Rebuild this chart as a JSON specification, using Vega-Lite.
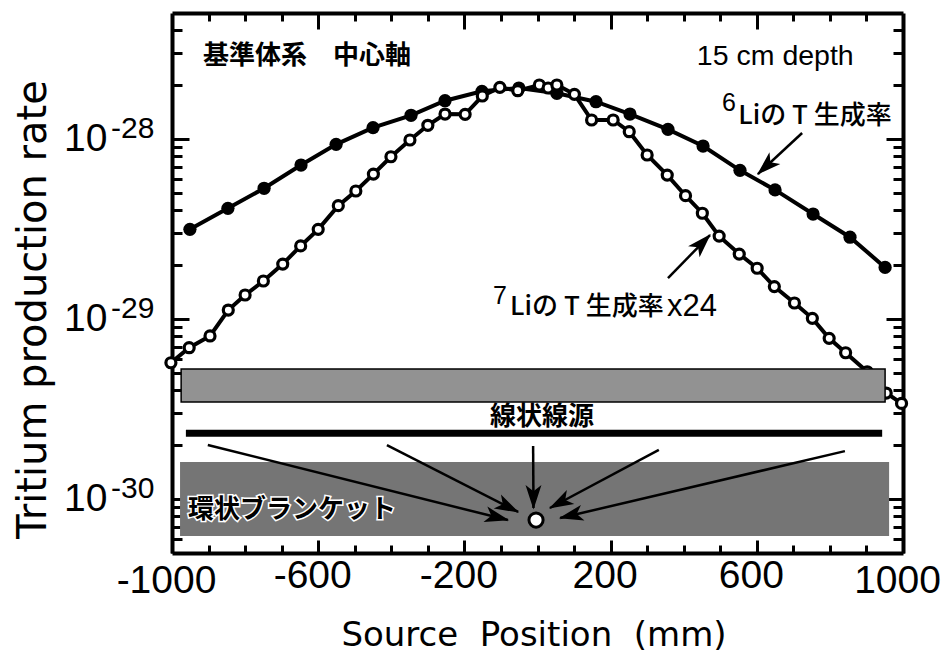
{
"$schema":"https://vega.github.io/schema/vega-lite/v6.json",
"width":731,"height":540,
"autosize":{"type":"none"},
"padding":{"left":172,"top":13,"right":43,"bottom":103},
"background":"white",
"view":{"stroke":null},
"datasets":{
"li6":[{"x":-951,"y":3.14e-29},{"x":-847,"y":4.11e-29},{"x":-748,"y":5.31e-29},{"x":-647,"y":7.15e-29},{"x":-551,"y":9.32e-29},{"x":-450,"y":1.153e-28},{"x":-346,"y":1.351e-28},{"x":-253,"y":1.628e-28},{"x":-152,"y":1.836e-28},{"x":-51,"y":1.915e-28},{"x":53,"y":1.79e-28},{"x":160,"y":1.607e-28},{"x":253,"y":1.373e-28},{"x":357,"y":1.129e-28},{"x":453,"y":9.12e-29},{"x":554,"y":6.68e-29},{"x":650,"y":5.2e-29},{"x":754,"y":3.82e-29},{"x":855,"y":2.84e-29},{"x":951,"y":1.93e-29}],
"li7":[{"x":-1003,"y":5.7e-30},{"x":-953,"y":6.91e-30},{"x":-896,"y":8.03e-30},{"x":-846,"y":1.119e-29},{"x":-800,"y":1.356e-29},{"x":-750,"y":1.622e-29},{"x":-697,"y":2.015e-29},{"x":-648,"y":2.54e-29},{"x":-600,"y":3.14e-29},{"x":-545,"y":4.25e-29},{"x":-497,"y":5.13e-29},{"x":-449,"y":6.37e-29},{"x":-401,"y":7.95e-29},{"x":-349,"y":9.85e-29},{"x":-300,"y":1.189e-28},{"x":-253,"y":1.373e-28},{"x":-198,"y":1.368e-28},{"x":-151,"y":1.729e-28},{"x":-103,"y":1.932e-28},{"x":-54,"y":1.85e-28},{"x":5,"y":1.99e-28},{"x":29,"y":1.915e-28},{"x":53,"y":1.99e-28},{"x":101,"y":1.767e-28},{"x":148,"y":1.272e-28},{"x":207,"y":1.272e-28},{"x":251,"y":1.095e-28},{"x":300,"y":8.13e-29},{"x":355,"y":6.29e-29},{"x":405,"y":4.83e-29},{"x":451,"y":3.86e-29},{"x":497,"y":2.88e-29},{"x":552,"y":2.29e-29},{"x":601,"y":1.91e-29},{"x":648,"y":1.51e-29},{"x":703,"y":1.224e-29},{"x":752,"y":1.006e-29},{"x":798,"y":7.79e-30},{"x":843,"y":6.48e-30},{"x":902,"y":5.08e-30},{"x":954,"y":3.87e-30},{"x":996,"y":3.39e-30}],
"arrows":[{"id":"a1","x":724,"y":1.077e-28,"x2":603,"y2":6.37e-29},{"id":"a2","x":357,"y":1.685e-29,"x2":472,"y2":2.92e-29},{"id":"a3","x":-902,"y":1.99e-30,"x2":-81,"y2":7.62e-31},{"id":"a4","x":-412,"y":1.99e-30,"x2":-53,"y2":8.45e-31},{"id":"a5","x":-12,"y":1.965e-30,"x2":-11,"y2":8.89e-31},{"id":"a6","x":332,"y":1.87e-30,"x2":34,"y2":8.89e-31},{"id":"a7","x":841,"y":1.84e-30,"x2":62,"y2":7.82e-31}],
"heads":[{"id":"a1","x":625,"y":7.02e-29},{"id":"a2","x":451,"y":2.64e-29},{"id":"a3","x":-110,"y":7.9e-31},{"id":"a4","x":-80,"y":9e-31},{"id":"a5","x":-11,"y":1.02e-30},{"id":"a6","x":61,"y":9.5e-31},{"id":"a7","x":91,"y":8.08e-31}],
"expo":[{"x":-1000,"y":1e-28,"t":"-28"},{"x":-1000,"y":1e-29,"t":"-29"},{"x":-1000,"y":1e-30,"t":"-30"}]
},
"encoding":{
"x":{"field":"x","type":"quantitative","scale":{"domain":[-1000,1000],"nice":false,"zero":false},"axis":null},
"y":{"field":"y","type":"quantitative","scale":{"type":"log","domain":[5e-31,5e-28],"nice":false},"axis":null}
},
"layer":[
{"data":{"name":"li6"},"mark":{"type":"line","stroke":"black","strokeWidth":4},
 "encoding":{
 "x":{"field":"x","type":"quantitative","axis":{"orient":"bottom","values":[-1000,-900,-800,-700,-600,-500,-400,-300,-200,-100,0,100,200,300,400,500,600,700,800,900,1000],"grid":false,"domainColor":"black","domainWidth":4,"tickColor":"black","tickWidth":3,"tickSize":{"condition":{"test":"indexof([-600,-200,200,600],datum.value)>=0","value":-13},"value":-8},"labelExpr":"indexof([-1000,-600,-200,200,600,1000],datum.value)>=0?''+datum.value:''","labelFont":"Liberation Sans","labelFontSize":39,"labelColor":"black","labelPadding":16,"labelOffset":-6,"labelOverlap":false,"labelBound":false,"labelFlush":false,"title":"Source\u00a0\u00a0Position\u00a0\u00a0(mm)","titleFont":"DejaVu Sans","titleFontSize":34,"titleFontWeight":"normal","titleColor":"black","titleX":361.5,"titleY":92,"titleAnchor":"middle","titleAlign":"center","titleBaseline":"alphabetic"}},
 "y":{"field":"y","type":"quantitative","axis":{"orient":"left","values":[6e-31,7e-31,8e-31,9e-31,1e-30,2e-30,3e-30,4e-30,5e-30,6e-30,7e-30,8e-30,9e-30,1e-29,2e-29,3e-29,4e-29,5e-29,6e-29,7e-29,8e-29,9e-29,1e-28,2e-28,3e-28,4e-28],"grid":false,"domainColor":"black","domainWidth":4,"tickColor":"black","tickWidth":3,"tickSize":{"condition":{"test":"datum.value==1e-28||datum.value==1e-29||datum.value==1e-30","value":-17},"value":-10},"labelExpr":"(datum.value==1e-28||datum.value==1e-29||datum.value==1e-30)?'10':''","labelFont":"Liberation Sans","labelFontSize":39,"labelColor":"black","labelPadding":82,"labelOverlap":false,"labelBound":false,"labelFlush":false,"title":"Tritium production rate","titleFont":"DejaVu Sans","titleFontSize":40,"titleFontWeight":"normal","titleColor":"black","titleX":-127,"titleY":296,"titleAnchor":"middle","titleAlign":"center","titleBaseline":"alphabetic","titleAngle":-90}}
 }},
{"data":{"name":"li6"},"mark":{"type":"point","filled":true,"color":"black","size":175,"opacity":1},
 "encoding":{
 "x":{"field":"x","type":"quantitative","axis":{"orient":"top","values":[-900,-800,-700,-600,-500,-400,-300,-200,-100,0,100,200,300,400,500,600,700,800,900],"grid":false,"domainColor":"black","domainWidth":4,"tickColor":"black","tickWidth":3,"tickSize":{"condition":{"test":"indexof([-600,-200,200,600],datum.value)>=0","value":-16},"value":-8},"labels":false,"title":null}},
 "y":{"field":"y","type":"quantitative","axis":{"orient":"right","values":[6e-31,7e-31,8e-31,9e-31,1e-30,2e-30,3e-30,4e-30,5e-30,6e-30,7e-30,8e-30,9e-30,1e-29,2e-29,3e-29,4e-29,5e-29,6e-29,7e-29,8e-29,9e-29,1e-28,2e-28,3e-28,4e-28],"grid":false,"domainColor":"black","domainWidth":4,"tickColor":"black","tickWidth":3,"tickSize":{"condition":{"test":"datum.value==1e-28||datum.value==1e-29||datum.value==1e-30","value":-17},"value":-10},"labels":false,"title":null}}
 }},
{"data":{"name":"li7"},"mark":{"type":"line","stroke":"black","strokeWidth":4}},
{"data":{"name":"li7"},"mark":{"type":"point","filled":true,"fill":"white","stroke":"black","strokeWidth":3.2,"size":100,"opacity":1}},
{"data":{"values":[{"x":-975,"x2":951,"y":5.26e-30,"y2":3.45e-30,"part":"upper"}]},"mark":{"type":"rect","fill":"#929292","stroke":"black","strokeWidth":1.5},"encoding":{"x2":{"field":"x2"},"y2":{"field":"y2"}}},
{"data":{"values":[{"x":-978,"x2":962,"y":1.6e-30,"y2":6.21e-31,"part":"lower"}]},"mark":{"type":"rect","fill":"#757575"},"encoding":{"x2":{"field":"x2"},"y2":{"field":"y2"}}},
{"data":{"values":[{"x":-962,"x2":943,"y":2.31e-30}]},"mark":{"type":"rule","stroke":"black","strokeWidth":7},"encoding":{"x2":{"field":"x2"}}},
{"data":{"name":"arrows"},"mark":{"type":"rule","stroke":"black","strokeWidth":2.5},"encoding":{"x2":{"field":"x2"},"y2":{"field":"y2"}}},
{"data":{"name":"heads"},"transform":[{"filter":"datum.id=='a1'"}],"mark":{"type":"point","shape":"M0,-1L-0.65,1L0,0.5L0.65,1Z","filled":true,"color":"black","opacity":1,"size":600,"angle":227}},
{"data":{"name":"heads"},"transform":[{"filter":"datum.id=='a2'"}],"mark":{"type":"point","shape":"M0,-1L-0.65,1L0,0.5L0.65,1Z","filled":true,"color":"black","opacity":1,"size":600,"angle":44}},
{"data":{"name":"heads"},"transform":[{"filter":"datum.id=='a3'"}],"mark":{"type":"point","shape":"M0,-1L-0.65,1L0,0.5L0.65,1Z","filled":true,"color":"black","opacity":1,"size":600,"angle":104}},
{"data":{"name":"heads"},"transform":[{"filter":"datum.id=='a4'"}],"mark":{"type":"point","shape":"M0,-1L-0.65,1L0,0.5L0.65,1Z","filled":true,"color":"black","opacity":1,"size":600,"angle":117}},
{"data":{"name":"heads"},"transform":[{"filter":"datum.id=='a5'"}],"mark":{"type":"point","shape":"M0,-1L-0.65,1L0,0.5L0.65,1Z","filled":true,"color":"black","opacity":1,"size":600,"angle":180}},
{"data":{"name":"heads"},"transform":[{"filter":"datum.id=='a6'"}],"mark":{"type":"point","shape":"M0,-1L-0.65,1L0,0.5L0.65,1Z","filled":true,"color":"black","opacity":1,"size":600,"angle":242}},
{"data":{"name":"heads"},"transform":[{"filter":"datum.id=='a7'"}],"mark":{"type":"point","shape":"M0,-1L-0.65,1L0,0.5L0.65,1Z","filled":true,"color":"black","opacity":1,"size":600,"angle":257}},
{"data":{"values":[{"x":-4,"y":7.62e-31}]},"mark":{"type":"point","filled":true,"fill":"white","stroke":"black","strokeWidth":3,"size":200,"opacity":1}},
{"data":{"name":"expo"},"mark":{"type":"text","align":"left","baseline":"middle","dx":-61,"dy":-10,"font":"Liberation Sans","fontSize":30,"color":"black"},"encoding":{"text":{"field":"t"}}},
{"data":{"values":[{"x":-915,"y":2.884e-28,"t":"基準体系　中心軸"}]},"mark":{"type":"text","align":"left","baseline":"middle","font":"Noto Sans CJK JP","fontSize":26,"fontWeight":"bold","color":"black"},"encoding":{"text":{"field":"t"}}},
{"data":{"values":[{"x":436,"y":2.884e-28,"t":"15 cm depth"}]},"mark":{"type":"text","align":"left","baseline":"middle","font":"Liberation Sans","fontSize":28.5,"color":"black"},"encoding":{"text":{"field":"t"}}},
{"data":{"values":[{"x":505,"y":1.58e-28,"t":"6"},{"x":-122,"y":1.339e-29,"t":"7"}]},"mark":{"type":"text","align":"left","baseline":"middle","font":"Liberation Sans","fontSize":25,"color":"black"},"encoding":{"text":{"field":"t"}}},
{"data":{"values":[{"x":549,"y":1.339e-28,"t":"Liの T 生成率"},{"x":-75,"y":1.163e-29,"t":"Liの T 生成率"}]},"mark":{"type":"text","align":"left","baseline":"middle","font":"Noto Sans CJK JP","fontSize":26,"fontWeight":500,"color":"black"},"encoding":{"text":{"field":"t"}}},
{"data":{"values":[{"x":354,"y":1.163e-29,"t":"x24"}]},"mark":{"type":"text","align":"left","baseline":"middle","font":"Liberation Sans","fontSize":31,"color":"black"},"encoding":{"text":{"field":"t"}}},
{"data":{"values":[{"x":12,"y":2.85e-30,"t":"線状線源"}]},"mark":{"type":"text","align":"center","baseline":"middle","font":"Noto Sans CJK JP","fontSize":26,"fontWeight":"bold","color":"black"},"encoding":{"text":{"field":"t"}}},
{"data":{"values":[{"x":-956,"y":8.67e-31,"t":"環状ブランケット"}]},"mark":{"type":"text","align":"left","baseline":"middle","font":"Noto Sans CJK JP","fontSize":26,"fontWeight":"bold","color":"white","stroke":"white","strokeWidth":3},"encoding":{"text":{"field":"t"}}},
{"data":{"values":[{"x":-956,"y":8.67e-31,"t":"環状ブランケット"}]},"mark":{"type":"text","align":"left","baseline":"middle","font":"Noto Sans CJK JP","fontSize":26,"fontWeight":"bold","color":"black"},"encoding":{"text":{"field":"t"}}}
],
"resolve":{"axis":{"x":"independent","y":"independent"}}
}
